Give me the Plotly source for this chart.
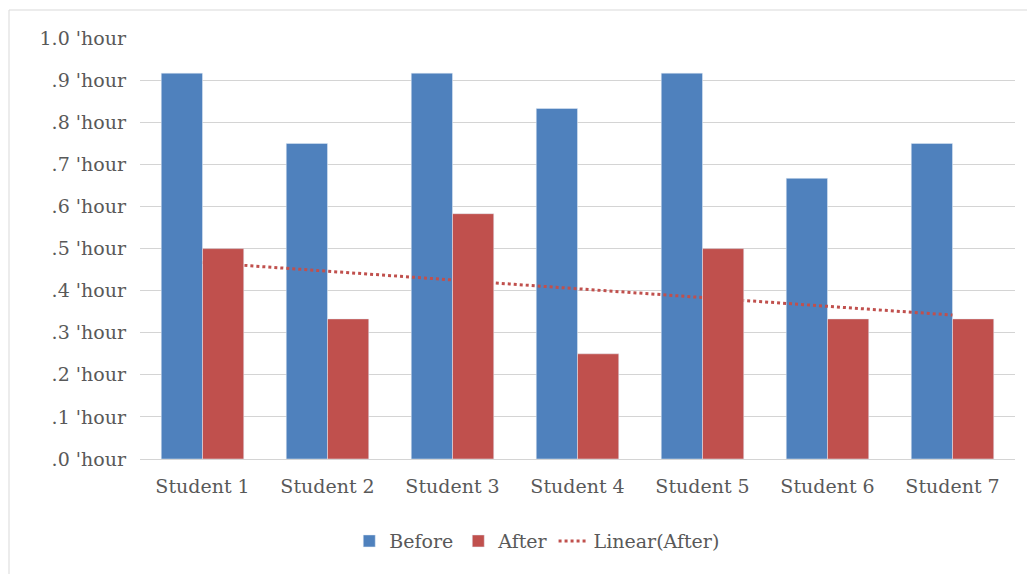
import numpy as np
import plotly.graph_objects as go

# Hours per student, before and after
students = ["Student 1", "Student 2", "Student 3", "Student 4",
            "Student 5", "Student 6", "Student 7"]
before = [0.917, 0.75, 0.917, 0.833, 0.917, 0.667, 0.75]
after = [0.5, 0.333, 0.583, 0.25, 0.5, 0.333, 0.333]

y_ticks = [0.0, 0.1, 0.2, 0.3, 0.4, 0.5, 0.6, 0.7, 0.8, 0.9, 1.0]
y_tick_labels = [".0 'hour", ".1 'hour", ".2 'hour", ".3 'hour", ".4 'hour",
                 ".5 'hour", ".6 'hour", ".7 'hour", ".8 'hour", ".9 'hour",
                 "1.0 'hour"]

BLUE = "#4F81BD"
RED = "#C0504D"
TEXT = "#595959"
GRID = "#D4D4D4"
FONT = "DejaVu Serif"
FS = 19

# Least-squares linear trend through the "After" series
idx = np.arange(1, len(after) + 1)
slope, intercept = np.polyfit(idx, after, 1)
trend = slope * idx + intercept

fig = go.Figure()
fig.add_trace(go.Bar(
    x=students, y=before, name="Before", marker_color=BLUE,
    offset=-0.33, width=0.33, legendrank=1,
))
fig.add_trace(go.Scatter(
    x=students, y=trend, name="Linear(After)", mode="lines",
    line=dict(color=RED, width=3, dash="dot"), legendrank=3,
))
# red bars on an overlaid axis so they sit above the trend line
fig.add_trace(go.Bar(
    x=students, y=after, name="After", marker_color=RED,
    offset=0.0, width=0.33, yaxis="y2", legendrank=2,
))

fig.update_layout(
    width=1027, height=574,
    margin=dict(l=140, r=12, t=38, b=115),
    paper_bgcolor="white", plot_bgcolor="white",
    barmode="overlay",
    font=dict(family=FONT, size=FS, color=TEXT),
    xaxis=dict(
        type="category", showgrid=False, showline=False, zeroline=False,
        ticks="", ticklabelstandoff=14,
        tickfont=dict(family=FONT, size=FS, color=TEXT),
    ),
    yaxis=dict(
        range=[0, 1.0005], tickvals=y_ticks, ticktext=y_tick_labels,
        showgrid=True, gridcolor=GRID, gridwidth=1,
        zeroline=True, zerolinecolor=GRID, zerolinewidth=1,
        showline=False, ticks="", ticklabelstandoff=13,
        tickfont=dict(family=FONT, size=FS, color=TEXT),
    ),
    yaxis2=dict(
        range=[0, 1.0005], overlaying="y", visible=False,
    ),
    legend=dict(
        orientation="h", x=0.454, xanchor="center", y=-0.195, yanchor="middle",
        font=dict(family=FONT, size=FS, color=TEXT),
        bgcolor="rgba(0,0,0,0)", itemwidth=30,
    ),
    showlegend=True,
    shapes=[dict(
        type="rect", xref="paper", yref="paper",
        x0=(9 - 140) / 875, x1=(1040 - 140) / 875,
        y0=(459 - 590) / 421, y1=(459 - 10) / 421,
        line=dict(color="#D9D9D9", width=1), fillcolor="rgba(0,0,0,0)",
        layer="below",
    )],
)

fig.write_html("out.html")
